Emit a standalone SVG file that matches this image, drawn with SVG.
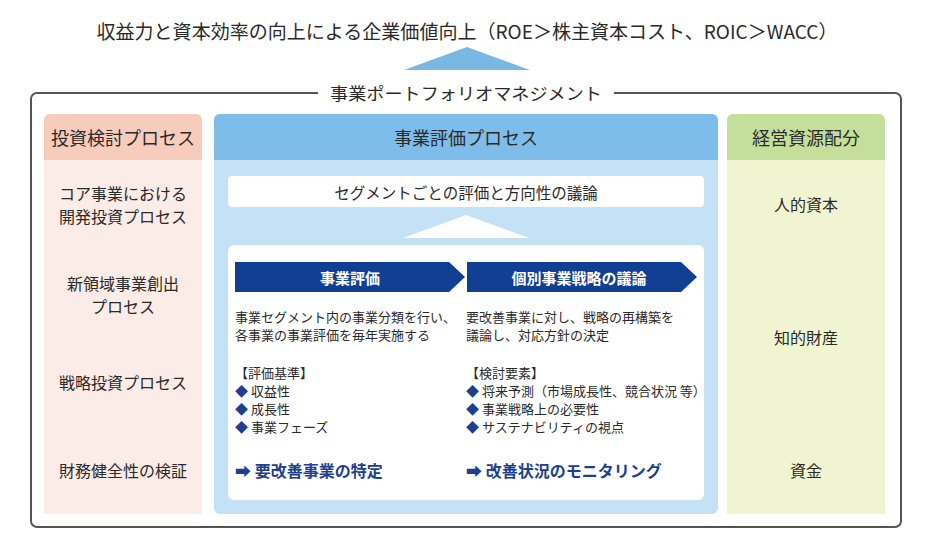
<svg xmlns="http://www.w3.org/2000/svg" width="930" height="559" viewBox="0 0 930 559">
<style>
text{font-family:"Noto Sans CJK JP","Noto Sans",sans-serif;fill:#2a2a2a}
.c{text-anchor:middle;dominant-baseline:central}
.h{font-size:18px}
.b{font-size:16px}
.m{font-size:15.5px}
.s{font-size:13px;dominant-baseline:central}
.w{fill:#fff;font-size:15px;font-weight:bold;text-anchor:middle;dominant-baseline:central}
.r{fill:#1d3f8f;font-size:16px;font-weight:bold;dominant-baseline:central}
.d{fill:#1d3f8f}
</style>
<rect width="930" height="559" fill="#fff"/>
<g id="goal">
<text class="c" x="467" y="30" font-size="19" textLength="741" lengthAdjust="spacingAndGlyphs">収益力と資本効率の向上による企業価値向上（ROE＞株主資本コスト、ROIC＞WACC）</text>
<polygon points="404,70 467,47 530,70" fill="#7ab8e4"/>
</g>
<g id="frame">
<rect x="31" y="93" width="870" height="434" rx="6" fill="none" stroke="#555" stroke-width="2"/>
<rect x="318" y="82" width="296" height="20" fill="#fff"/>
<text class="c" x="466" y="92" font-size="17" textLength="272" lengthAdjust="spacingAndGlyphs">事業ポートフォリオマネジメント</text>
</g>
<g id="investment">
<path d="M44,120 a6,6 0 0 1 6,-6 h146 a6,6 0 0 1 6,6 v394 h-158 z" fill="#fcece7"/>
<path d="M44,120 a6,6 0 0 1 6,-6 h146 a6,6 0 0 1 6,6 v40 h-158 z" fill="#f8ccbc"/>
<text class="c h" x="123" y="137">投資検討プロセス</text>
<text class="c b" x="123" y="193">コア事業における</text>
<text class="c b" x="123" y="216">開発投資プロセス</text>
<text class="c b" x="123" y="283">新領域事業創出</text>
<text class="c b" x="123" y="306">プロセス</text>
<text class="c b" x="123" y="382">戦略投資プロセス</text>
<text class="c b" x="123" y="470">財務健全性の検証</text>
</g>
<g id="evaluation">
<path d="M214,120 a6,6 0 0 1 6,-6 h492 a6,6 0 0 1 6,6 v388 a6,6 0 0 1 -6,6 h-492 a6,6 0 0 1 -6,-6 z" fill="#c4e1f5"/>
<path d="M214,120 a6,6 0 0 1 6,-6 h492 a6,6 0 0 1 6,6 v40 h-504 z" fill="#7ebde9"/>
<text class="c h" x="466" y="137">事業評価プロセス</text>
<rect x="228" y="176" width="476" height="31" rx="4" fill="#fff"/>
<text class="c m" x="466" y="192">セグメントごとの評価と方向性の議論</text>
<polygon points="403,238 466,215 529,238" fill="#fff"/>
<rect x="228" y="245" width="476" height="255" rx="6" fill="#fff"/>
</g>
<g id="biz-eval">
<polygon points="235,262 449,262 465,277 449,292 235,292" fill="#113f94"/>
<text class="w" x="350" y="277">事業評価</text>
<text class="s" x="235" y="316">事業セグメント内の事業分類を行い、</text>
<text class="s" x="235" y="334">各事業の事業評価を毎年実施する</text>
<text class="s" x="235" y="372">【評価基準】</text>
<text class="s" x="235" y="390"><tspan class="d">◆</tspan> 収益性</text>
<text class="s" x="235" y="408"><tspan class="d">◆</tspan> 成長性</text>
<text class="s" x="235" y="426"><tspan class="d">◆</tspan> 事業フェーズ</text>
<text class="r" x="235" y="470">➡ 要改善事業の特定</text>
</g>
<g id="strategy">
<polygon points="467,262 681,262 697,277 681,292 467,292" fill="#113f94"/>
<text class="w" x="579" y="277">個別事業戦略の議論</text>
<text class="s" x="466" y="316">要改善事業に対し、戦略の再構築を</text>
<text class="s" x="466" y="334">議論し、対応方針の決定</text>
<text class="s" x="466" y="372">【検討要素】</text>
<text class="s" x="466" y="390"><tspan class="d">◆</tspan> 将来予測（市場成長性、競合状況 等）</text>
<text class="s" x="466" y="408"><tspan class="d">◆</tspan> 事業戦略上の必要性</text>
<text class="s" x="466" y="426"><tspan class="d">◆</tspan> サステナビリティの視点</text>
<text class="r" x="466" y="470">➡ 改善状況のモニタリング</text>
</g>
<g id="resources">
<path d="M727,120 a6,6 0 0 1 6,-6 h146 a6,6 0 0 1 6,6 v394 h-158 z" fill="#f1f4d0"/>
<path d="M727,120 a6,6 0 0 1 6,-6 h146 a6,6 0 0 1 6,6 v40 h-158 z" fill="#c4de9b"/>
<text class="c h" x="806" y="137">経営資源配分</text>
<text class="c b" x="806" y="204">人的資本</text>
<text class="c b" x="806" y="337">知的財産</text>
<text class="c b" x="806" y="470">資金</text>
</g>
<g id="connectors"></g>
</svg>
